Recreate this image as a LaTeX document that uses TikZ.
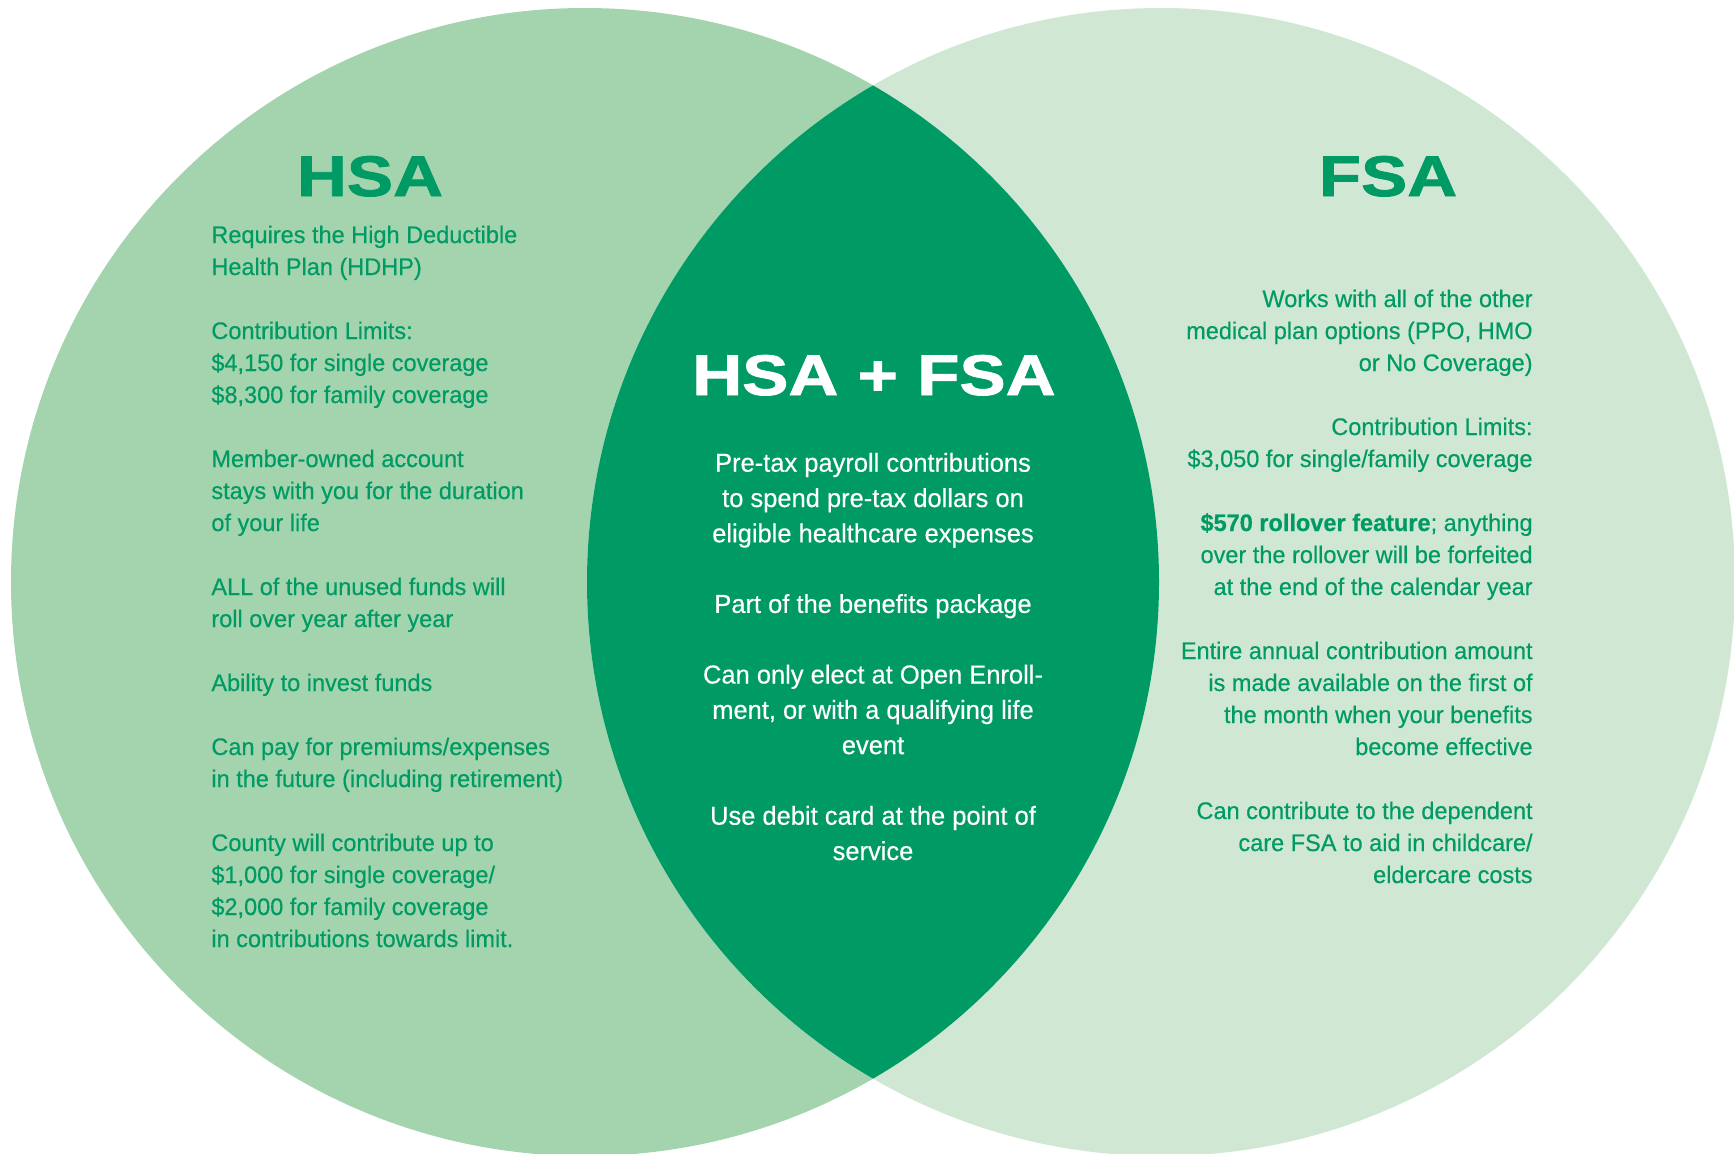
\documentclass[tikz,border=0pt]{standalone}
\usepackage{fontspec}
\setmainfont{Liberation Sans}[FakeStretch=0.98,FakeBold=0.4]
\newfontfamily\titlefont{Liberation Sans}[FakeStretch=1.21,BoldFeatures={FakeBold=1.5}]
\definecolor{hsagreen}{RGB}{163,212,174}
\definecolor{fsagreen}{RGB}{207,231,211}
\definecolor{bothgreen}{RGB}{0,154,100}
\tikzset{
  title/.style={inner sep=0pt, anchor=base, font=\titlefont\bfseries\fontsize{28.6}{30}\selectfont},
  body/.style={inner sep=0pt, font=\fontsize{12}{16}\selectfont, text=bothgreen},
}
\begin{document}
\begin{tikzpicture}[x=0.5pt,y=-0.5pt]
\fill[white] (0,0) rectangle (1734,1153);
\useasboundingbox (0,0) rectangle (1734,1153);
\coordinate (hsac) at (585,582);
\coordinate (fsac) at (1161,582);
\fill[hsagreen] (hsac) circle[radius=287pt];
\fill[fsagreen] (fsac) circle[radius=287pt];
\begin{scope}
\clip (hsac) circle[radius=287pt];
\fill[bothgreen] (fsac) circle[radius=287pt];
\end{scope}
\node[title, text=bothgreen] (hsa) at (370,196) {HSA};
\node[title, text=bothgreen] (fsa) at (1388,196) {FSA};
\node[title, text=white] (both) at (874,395) {HSA + FSA};
\node[body, anchor=base west, align=left] (hsatext) at (211,947) {Requires the High Deductible\\
Health Plan (HDHP)\\[16pt]
Contribution Limits:\\
\$4,150 for single coverage\\
\$8,300 for family coverage\\[16pt]
Member-owned account\\
stays with you for the duration\\
of your life\\[16pt]
ALL of the unused funds will\\
roll over year after year\\[16pt]
Ability to invest funds\\[16pt]
Can pay for premiums/expenses\\
in the future (including retirement)\\[16pt]
County will contribute up to\\
\$1,000 for single coverage/\\
\$2,000 for family coverage\\
in contributions towards limit.};
\node[body, anchor=base, align=center, text=white, font=\fontsize{13}{17.65}\selectfont] (bothtext) at (873,860) {Pre-tax payroll contributions\\
to spend pre-tax dollars on\\
eligible healthcare expenses\\[17.65pt]
Part of the benefits package\\[17.65pt]
Can only elect at Open Enroll-\\
ment, or with a qualifying life\\
event\\[17.65pt]
Use debit card at the point of\\
service};
\node[body, anchor=base east, align=right] (fsatext) at (1533,883) {Works with all of the other\\
medical plan options (PPO, HMO\\
or No Coverage)\\[16pt]
Contribution Limits:\\
\$3,050 for single/family coverage\\[16pt]
\textbf{\$570 rollover feature}; anything\\
over the rollover will be forfeited\\
at the end of the calendar year\\[16pt]
Entire annual contribution amount\\
is made available on the first of\\
the month when your benefits\\
become effective\\[16pt]
Can contribute to the dependent\\
care FSA to aid in childcare/\\
eldercare costs};
\end{tikzpicture}
\end{document}
